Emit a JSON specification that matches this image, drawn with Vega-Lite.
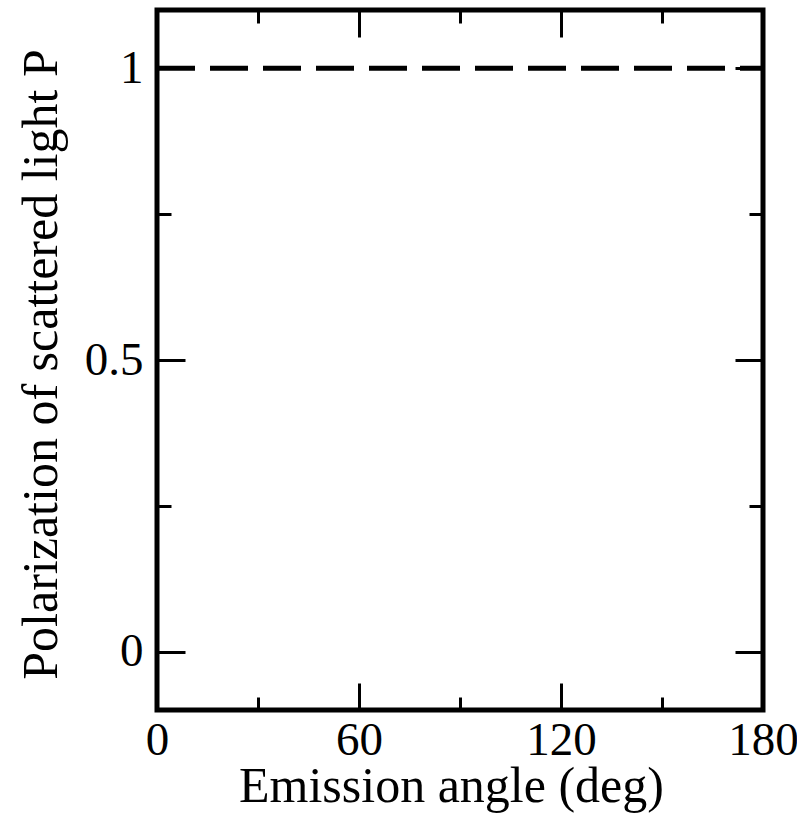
{
  "$schema": "https://vega.github.io/schema/vega-lite/v6.json",
  "width": 606,
  "height": 700,
  "autosize": "none",
  "padding": {"left": 157, "top": 10, "right": 34, "bottom": 109},
  "background": "white",
  "data": {"values": [{"angle": 0, "P": 1}, {"angle": 180, "P": 1}]},
  "config": {
    "view": {"stroke": "black", "strokeWidth": 5, "strokeJoin": "miter"},
    "axis": {
      "domain": false,
      "grid": false,
      "tickColor": "black",
      "tickWidth": 3,
      "labelFont": "Liberation Serif",
      "labelFontSize": 47,
      "labelColor": "black",
      "titleFont": "Liberation Serif",
      "titleFontSize": 50,
      "titleFontWeight": "normal",
      "titleColor": "black"
    }
  },
  "layer": [
    {
      "mark": {"type": "line", "color": "black", "strokeWidth": 5, "strokeDash": [38, 15], "strokeCap": "butt", "clip": true},
      "encoding": {
        "x": {
          "field": "angle", "type": "quantitative",
          "scale": {"domain": [0, 180], "nice": false, "zero": false},
          "axis": {
            "orient": "bottom",
            "values": [0, 30, 60, 90, 120, 150, 180],
            "labelExpr": "datum.value % 60 === 0 ? format(datum.value, 'd') : ''",
            "tickSize": {"condition": {"test": "datum.value % 60 === 0", "value": -27}, "value": -13},
            "labelPadding": 34,
            "labelFlush": false,
            "labelOverlap": false,
            "title": "Emission angle (deg)",
            "titlePadding": -16,
            "titleX": 294
          }
        },
        "y": {
          "field": "P", "type": "quantitative",
          "scale": {"domain": [-0.1, 1.1], "nice": false, "zero": false},
          "axis": {
            "orient": "left",
            "values": [0, 0.25, 0.5, 0.75, 1],
            "labelExpr": "datum.value === 0 ? '0' : datum.value === 0.5 ? '0.5' : datum.value === 1 ? '1' : ''",
            "tickSize": {"condition": {"test": "datum.value === 0 || datum.value === 0.5 || datum.value === 1", "value": -28}, "value": -14},
            "labelPadding": 42,
            "labelFlush": false,
            "labelOverlap": false,
            "title": "Polarization of scattered light P",
            "titlePadding": 18,
            "titleY": 354
          }
        }
      }
    },
    {
      "mark": {"type": "line", "strokeOpacity": 0, "opacity": 0},
      "encoding": {
        "x": {
          "field": "angle", "type": "quantitative",
          "axis": {
            "orient": "top",
            "values": [0, 30, 60, 90, 120, 150, 180],
            "labels": false,
            "tickSize": {"condition": {"test": "datum.value % 60 === 0", "value": -27}, "value": -13},
            "title": null
          }
        },
        "y": {
          "field": "P", "type": "quantitative",
          "axis": {
            "orient": "right",
            "values": [0, 0.25, 0.5, 0.75, 1],
            "labels": false,
            "tickSize": {"condition": {"test": "datum.value === 0 || datum.value === 0.5 || datum.value === 1", "value": -28}, "value": -14},
            "title": null
          }
        }
      }
    }
  ],
  "resolve": {"axis": {"x": "independent", "y": "independent"}}
}
